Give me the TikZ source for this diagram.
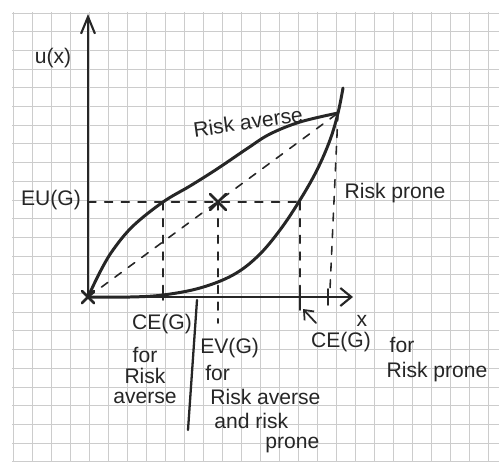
\documentclass[tikz,border=0pt]{standalone}
\usepackage{fontspec}
\setmainfont{Liberation Sans}
\usetikzlibrary{arrows.meta}
\tikzset{
  gridline/.style={draw=gray!40, line width=0.5pt},
  ink/.style={draw=black!85, line cap=round, line join=round},
  axis/.style={ink, line width=1.4pt},
  curve/.style={ink, line width=1.7pt},
  guide/.style={ink, line width=0.9pt, dash pattern=on 4.5pt off 5pt},
  tickmark/.style={ink, line width=1.1pt},
  crossmark/.style={ink, line width=1.6pt},
  lab/.style={font=\fontsize{12}{14}\selectfont, text=black!85, inner sep=0pt},
}
\begin{document}
\begin{tikzpicture}[x=0.02cm, y=-0.02cm]
\useasboundingbox (0,0) rectangle (499,466);
\fill[white] (0,0) rectangle (499,466);
% grid paper
\foreach \i in {0,...,25} \draw[gridline] ({13+19*\i},12) -- ({13+19*\i},462);
\foreach \j in {0,...,24} \draw[gridline] (12,{13+18.7*\j}) -- (499,{13+18.7*\j});

% key points
\coordinate (O) at (88,297);
\coordinate (ytop) at (88,14);
\coordinate (xend) at (353,297);
\coordinate (T) at (338,113);
\coordinate (A) at (163,202);
\coordinate (X) at (218,202);
\coordinate (P) at (300,202);
\coordinate (eu0) at (88,202);
\coordinate (Aax) at (163,297);
\coordinate (Pax) at (300,297);
\coordinate (Xlow) at (218,323);
\coordinate (Tax) at (330,289);
\coordinate (evtop) at (197,300);
\coordinate (evbot) at (188,430);
\coordinate (arrS) at (316,323);
\coordinate (arrE) at (303,309);

% guide lines
\draw[guide] (O) -- (T);
\draw[guide] (eu0) -- (P);
\draw[guide] (A) -- (Aax);
\draw[guide] (X) -- (Xlow);
\draw[guide] (P) -- (Pax);
\draw[guide] (T) -- (Tax);

% axes
\draw[axis, -{Straight Barb[length=3.4mm, width=2.8mm, line width=1.2pt]}] (O) -- (ytop);
\draw[axis, -{Straight Barb[length=2.2mm, width=3.6mm, line width=1.2pt]}] (O) -- (xend);

% ticks
\draw[tickmark] (163,287) -- (163,300);
\draw[tickmark] (300,289) -- (300,310);
\draw[tickmark] (328,289) -- (328,305);

% EV separator line
\draw[ink, line width=1.3pt] (evtop) -- (evbot);

% curves
\draw[curve] plot[smooth, tension=0.6] coordinates {(88,297) (100,272) (113,250) (133,226) (163,202) (190,186) (217,169) (248,148) (270,134) (300,122) (338,113)};
\draw[curve] plot[smooth, tension=0.6] coordinates {(88,297) (130,297) (163,295) (200,288) (233,275) (258,256) (280,230) (300,200) (317,170) (330,140) (338,113) (343,88)};

% crosses
\draw[crossmark] (82,291) -- (94,303) (82,303) -- (94,291);
\draw[crossmark] (210,194) -- (226,210) (210,210) -- (226,194);

% small arrow
\draw[ink, line width=1pt, -{Straight Barb[length=1.6mm, width=2.6mm]}] (arrS) -- (arrE);

% labels
\node[lab] (ux) at (53,58) {u(x)};
\node[lab] (eu) at (51,200) {EU(G)};
\node[lab, rotate=8] (ra) at (248,122) {Risk averse};
\node[lab] (rp) at (395,193) {Risk prone};
\node[lab] (xl) at (362,321) {x};

\node[lab] (ce1) at (162,324) {CE(G)};
\node[lab] (ce1a) at (145,355) {for};
\node[lab] (ce1b) at (145,376) {Risk};
\node[lab] (ce1c) at (145,398) {averse};

\node[lab, anchor=west] (ev) at (200,348) {EV(G)};
\node[lab, anchor=west] (eva) at (205,373) {for};
\node[lab, anchor=west] (evb) at (210,397) {Risk averse};
\node[lab, anchor=west] (evc) at (214,421) {and risk};
\node[lab, anchor=west] (evd) at (265,445) {prone};

\node[lab] (ce2) at (341,342) {CE(G)};
\node[lab] (ce2a) at (402,345) {for};
\node[lab] (ce2b) at (437,372) {Risk prone};
\end{tikzpicture}
\end{document}
